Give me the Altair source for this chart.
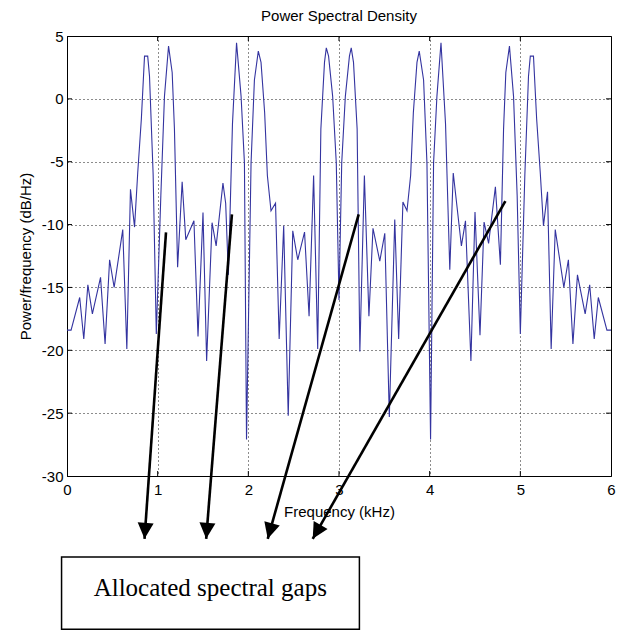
import math
import altair as alt
import pandas as pd

# ---------------- data ----------------
freq_khz = [
    0.000, 0.045, 0.140, 0.185, 0.230, 0.280, 0.370, 0.420, 0.470, 0.520,
    0.615, 0.660, 0.700, 0.745, 0.780, 0.820, 0.855, 0.890, 0.910, 0.950,
    0.985, 1.035, 1.075, 1.120, 1.160, 1.185, 1.220, 1.270, 1.310, 1.400,
    1.445, 1.500, 1.540, 1.600, 1.645, 1.720, 1.750, 1.780, 1.825, 1.870,
    1.920, 1.957, 1.980, 2.030, 2.067, 2.110, 2.140, 2.180, 2.210, 2.250,
    2.300, 2.340, 2.390, 2.440, 2.490, 2.545, 2.620, 2.670, 2.720, 2.765,
    2.800, 2.840, 2.860, 2.885, 2.930, 2.970, 3.000,
    3.030, 3.070, 3.115, 3.135, 3.160, 3.200, 3.230, 3.280, 3.330, 3.375,
    3.450, 3.505, 3.555, 3.615, 3.658, 3.705, 3.750, 3.790, 3.820, 3.860,
    3.885, 3.933, 3.970, 4.010, 4.043, 4.080, 4.125, 4.175, 4.222, 4.260,
    4.350, 4.395, 4.455, 4.500, 4.555, 4.600, 4.650, 4.725, 4.780, 4.815,
    4.840, 4.880, 4.925, 4.965, 5.000, 5.050, 5.090, 5.110, 5.145, 5.180,
    5.220, 5.255, 5.300, 5.340, 5.385, 5.480, 5.530, 5.580, 5.630, 5.715,
    5.765, 5.815, 5.860, 5.955, 6.000,
]
psd_db = [
    -18.4, -18.4, -15.8, -19.1, -14.8, -17.1, -14.2, -19.5, -12.8, -15.0,
    -10.4, -19.9, -7.2, -10.2, -5.9, -1.6, 3.4, 3.4, 1.8, -6.0,
    -18.7, -7.7, 0.2, 4.2, 2.1, -2.4, -13.4, -6.6, -11.2, -9.7,
    -18.9, -9.05, -20.85, -9.85, -11.7, -6.7, -8.3, -14.0, -2.0, 4.46,
    0.2, -5.1, -27.1, -5.1, 1.5, 3.8, 2.9, -1.1, -6.1, -8.9,
    -8.3, -19.1, -10.1, -25.2, -10.5, -12.8, -10.6, -17.3, -6.1, -19.9,
    -2.4, 2.9, 4.06, 3.4, 0.2, -5.1, -16.0,
    -5.1, 0.2, 3.4, 4.06, 2.9, -2.4, -20.1, -6.1, -17.3, -10.3,
    -12.9, -10.7, -25.3, -9.6, -19.1, -8.2, -8.9, -6.1, -1.1, 2.9,
    3.8, 1.5, -5.1, -27.1, -5.1, 0.2, 4.46, -2.0, -13.6, -5.9,
    -11.7, -9.7, -20.85, -9.0, -18.8, -9.8, -11.5, -7.0, -13.2, -2.4,
    2.1, 4.2, 0.2, -7.7, -18.7, -6.0, 1.8, 3.4, 3.4, -1.6,
    -5.9, -10.1, -7.4, -19.9, -10.4, -15.0, -12.8, -19.5, -14.0, -17.1,
    -14.8, -19.1, -15.8, -18.4, -18.4,
]

x_ticks = [0, 1, 2, 3, 4, 5, 6]
y_ticks = [-30, -25, -20, -15, -10, -5, 0, 5]

chart_title = "Power Spectral Density"
x_title = "Frequency (kHz)"
y_title = "Power/frequency (dB/Hz)"

# annotation arrows (data coordinates: kHz, dB)
arrow_x_start = [1.092, 1.819, 3.217, 4.835]
arrow_y_start = [-10.62, -9.19, -9.19, -8.13]
arrow_x_end = [0.855, 1.535, 2.214, 2.710]
arrow_y_end = [-35.0, -35.0, -35.0, -35.0]

box_text = ["Allocated spectral gaps"]
box_x = [-0.06]
box_x2 = [3.225]
box_y = [-36.45]
box_y2 = [-42.2]
box_text_x = [1.58]
box_text_y = [-38.9]

# ---------------- layout / style ----------------
W, H = 544, 440
X_DOM = [0, 6]
Y_DOM = [-30, 5]
px_x = W / (X_DOM[1] - X_DOM[0])
px_y = H / (Y_DOM[1] - Y_DOM[0])
TICK_LEN = 5
FONT = "Liberation Sans"
LINE_COLOR = "#3434a0"

xs = alt.Scale(domain=X_DOM, nice=False, zero=False)
ys = alt.Scale(domain=Y_DOM, nice=False, zero=False)

x_axis = alt.Axis(
    values=x_ticks, title=x_title, grid=True, gridDash=[1, 3], gridColor="black",
    gridOpacity=0.9, tickSize=0, labelFlush=False, labelFontSize=15, labelFont=FONT,
    labelColor="black", labelPadding=6, domainColor="black",
    titleFont=FONT, titleFontSize=15, titleFontWeight="normal", titleColor="black",
    titlePadding=7)
y_axis = alt.Axis(
    values=y_ticks, title=y_title, grid=True, gridDash=[1, 3], gridColor="black",
    gridOpacity=0.9, tickSize=0, labelFontSize=15, labelFont=FONT, labelColor="black",
    labelPadding=4, domainColor="black", labelExpr="'' + datum.value",
    titleFont=FONT, titleFontSize=15, titleFontWeight="normal", titleColor="black",
    titlePadding=8)


def X(field):
    return alt.X(field, scale=xs, axis=x_axis)


def Y(field):
    return alt.Y(field, scale=ys, axis=y_axis)


psd = pd.DataFrame({"f": freq_khz, "p": psd_db})

line = alt.Chart(psd).mark_line(color=LINE_COLOR, strokeWidth=1.1, clip=True).encode(
    x=X("f:Q"), y=Y("p:Q"),
)

# inward tick marks (MATLAB style) on all four sides
dx_t = TICK_LEN / px_x
dy_t = TICK_LEN / px_y
tick_rows = []
for v in x_ticks[1:-1]:
    tick_rows.append({"x": v, "x2": v, "y": Y_DOM[0], "y2": Y_DOM[0] + dy_t})
    tick_rows.append({"x": v, "x2": v, "y": Y_DOM[1], "y2": Y_DOM[1] - dy_t})
for v in y_ticks[1:-1]:
    tick_rows.append({"x": X_DOM[0], "x2": X_DOM[0] + dx_t, "y": v, "y2": v})
    tick_rows.append({"x": X_DOM[1], "x2": X_DOM[1] - dx_t, "y": v, "y2": v})
ticks = alt.Chart(pd.DataFrame(tick_rows)).mark_rule(color="black", strokeWidth=1).encode(
    x=X("x:Q"), x2="x2:Q", y=Y("y:Q"), y2="y2:Q",
)

# arrows
angles = []
for xs0, ys0, xe, ye in zip(arrow_x_start, arrow_y_start, arrow_x_end, arrow_y_end):
    dxp = (xe - xs0) * px_x
    dyp = -(ye - ys0) * px_y
    angles.append(math.degrees(math.atan2(-dxp, dyp)) % 360)
arrows_df = pd.DataFrame({
    "xs": arrow_x_start, "ys": arrow_y_start,
    "xe": arrow_x_end, "ye": arrow_y_end, "ang": angles,
})
arrow_lines = alt.Chart(arrows_df).mark_rule(color="black", strokeWidth=2.6).encode(
    x=X("xs:Q"), x2="xe:Q", y=Y("ys:Q"), y2="ye:Q",
)
arrow_heads = alt.Chart(arrows_df).mark_point(
    shape="M0,0 L-0.5,-1 L0.5,-1 Z", filled=True, color="black", opacity=1, size=1024
).encode(
    x=X("xe:Q"), y=Y("ye:Q"),
    angle=alt.Angle("ang:Q", scale=None),
)

box_df = pd.DataFrame({"x": box_x, "x2": box_x2, "y": box_y, "y2": box_y2,
                       "tx": box_text_x, "ty": box_text_y, "t": box_text})
box = alt.Chart(box_df).mark_rect(fill="white", stroke="black", strokeWidth=1.5).encode(
    x=X("x:Q"), x2="x2:Q", y=Y("y:Q"), y2="y2:Q",
)
box_label = alt.Chart(box_df).mark_text(
    font="Liberation Serif", fontSize=25, color="black", align="center", baseline="middle"
).encode(
    x=X("tx:Q"), y=Y("ty:Q"), text="t:N",
)

chart = alt.layer(line, ticks, arrow_lines, arrow_heads, box, box_label).properties(
    width=W, height=H,
    title=alt.TitleParams(chart_title, font=FONT, fontSize=15, fontWeight="normal",
                          color="black", offset=5),
    padding={"left": 67, "top": 36, "right": 14, "bottom": 155},
    autosize=alt.AutoSizeParams(type="none"),
    background="white",
).configure_view(stroke="black", strokeWidth=1)

chart.save("out.html", embed_options={"renderer": "svg", "actions": False})
